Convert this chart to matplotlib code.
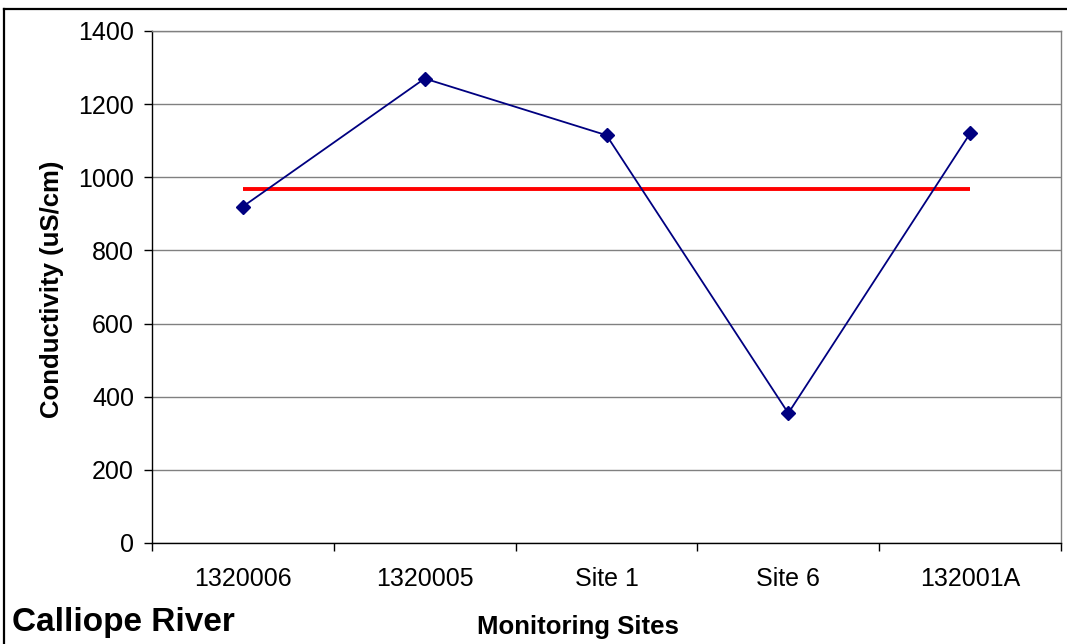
import matplotlib.pyplot as plt
from matplotlib.lines import Line2D

# --- data ---
sites = ["1320006", "1320005", "Site 1", "Site 6", "132001A"]
conductivity = [920, 1270, 1115, 355, 1120]
guideline = [968, 968, 968, 968, 968]

W, H = 1067, 644
plt.rcParams['font.family'] = ['Liberation Sans', 'DejaVu Sans']

fig = plt.figure(figsize=(W / 100, H / 100), dpi=100)
# plot area in pixel coordinates
left, right, top, bottom = 152, 1061, 31, 543
ax = fig.add_axes([left / W, 1 - bottom / H, (right - left) / W, (bottom - top) / H])

x = list(range(len(sites)))
ax.plot(x, guideline, color='#ff0000', linewidth=2.8, solid_capstyle='butt', zorder=3)
ax.plot(x, conductivity, color='#000080', linewidth=1.3, marker='D',
        markersize=7, markerfacecolor='#000080', markeredgecolor='#000080', zorder=4)

ax.set_xlim(-0.5, len(sites) - 0.5)
ax.set_ylim(0, 1400)
ax.set_yticks(range(0, 1401, 200))
ax.set_xticks(x)
ax.set_xticklabels(sites)
ax.set_xticks([i + 0.5 for i in range(-1, len(sites))], minor=True)

ax.grid(axis='y', color='#808080', linewidth=1.0)
ax.set_axisbelow(True)
ax.tick_params(axis='x', which='major', length=0, pad=17, labelsize=18)
ax.tick_params(axis='x', which='minor', length=6, width=1, color='black')
ax.tick_params(axis='y', length=6, width=1, labelsize=18, pad=7)

for s in ['top', 'right']:
    ax.spines[s].set_color('#808080')
    ax.spines[s].set_linewidth(1.0)
for s in ['left', 'bottom']:
    ax.spines[s].set_color('black')
    ax.spines[s].set_linewidth(1.0)

fig.text(52 / W, 1 - 289 / H, "Conductivity (uS/cm)", rotation=90, fontsize=18.5,
         fontweight='bold', ha='center', va='center')
fig.text(578 / W, 1 - 627 / H, "Monitoring Sites", fontsize=18.5,
         fontweight='bold', ha='center', va='center')
fig.text(12 / W, 1 - 623 / H, "Calliope River", fontsize=24,
         fontweight='bold', ha='left', va='center')

# outer frame (only top and left visible)
fig.add_artist(Line2D([4 / W, 4 / W], [0, 1 - 9 / H], color='black', linewidth=1.6,
                      transform=fig.transFigure))
fig.add_artist(Line2D([4 / W, 1], [1 - 9 / H, 1 - 9 / H], color='black', linewidth=1.6,
                      transform=fig.transFigure))

fig.savefig("out.png", dpi=100)
